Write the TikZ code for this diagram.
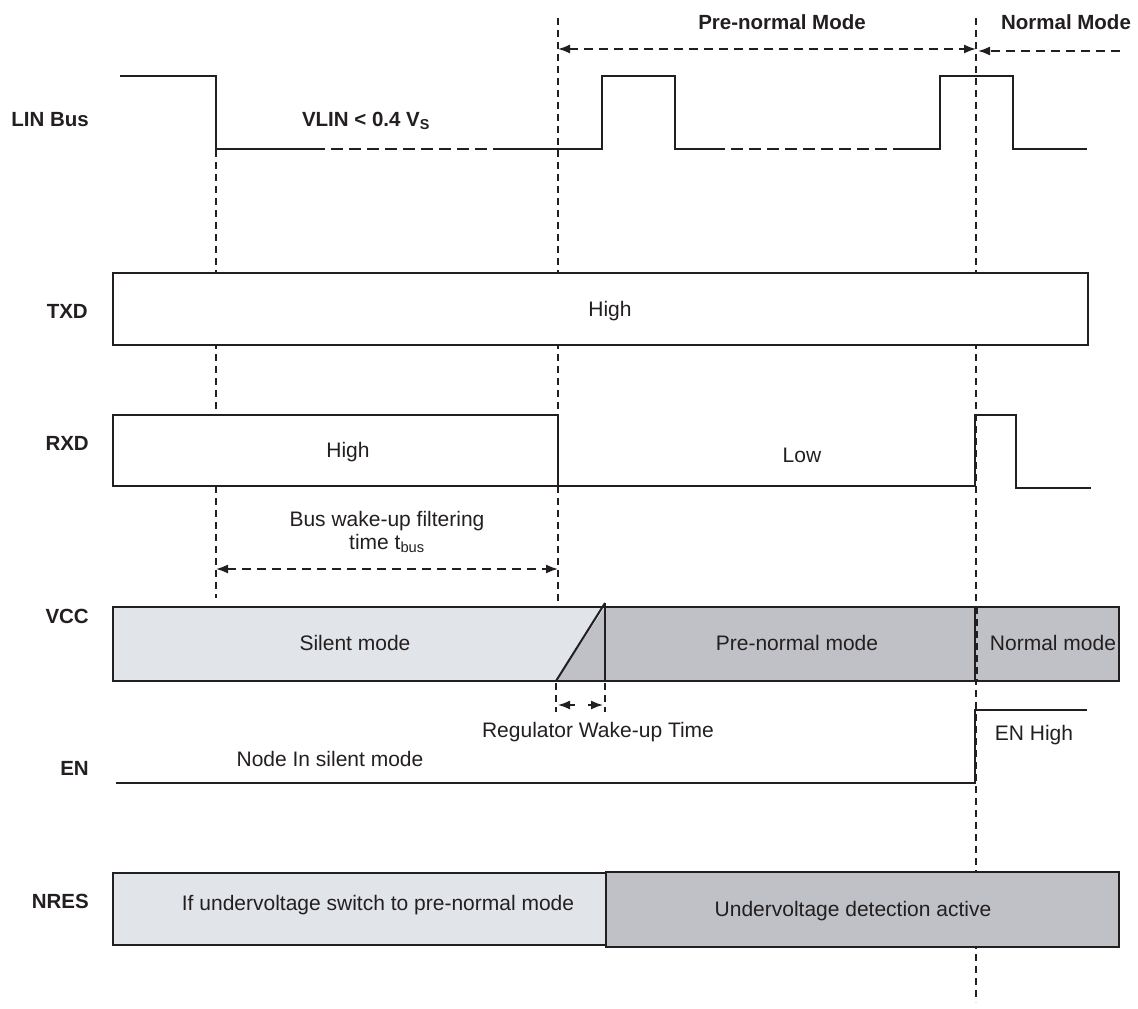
\documentclass[tikz,border=0pt]{standalone}
\usepackage{fontspec}
\setmainfont{Liberation Sans}
\usetikzlibrary{arrows.meta}
\definecolor{lightfill}{RGB}{225,228,233}
\definecolor{darkfill}{RGB}{191,193,199}
\definecolor{ink}{RGB}{35,31,32}
\begin{document}
\begin{tikzpicture}[x=1pt,y=-1pt,
  sig/.style={line width=2pt, draw=ink, line join=miter},
  sigdash/.style={line width=2pt, draw=ink, dash pattern=on 12pt off 6pt},
  guide/.style={line width=1.3pt, draw=ink, dash pattern=on 7pt off 5pt},
  dimarrow/.style={line width=1.6pt, draw=ink, dash pattern=on 9pt off 6pt},
  tip/.style={-{Latex[length=12pt,width=9pt]}},
  tips/.style={{Latex[length=12pt,width=9pt]}-{Latex[length=12pt,width=9pt]}},
  boxline/.style={line width=2pt, draw=ink},
  lbl/.style={font=\bfseries\fontsize{20.5}{22}\selectfont, anchor=east, text=ink, inner sep=0pt},
  txt/.style={font=\fontsize{21}{23}\selectfont, text=ink, inner sep=0pt},
  btxt/.style={font=\bfseries\fontsize{20.5}{22}\selectfont, text=ink, inner sep=0pt},
]
\useasboundingbox (0,0) rectangle (1138,1009);

% guide coordinates
\coordinate (g1t) at (216,150);
\coordinate (g1b) at (216,598);
\coordinate (g2t) at (558,18);
\coordinate (g2b) at (558,605);
\coordinate (g3t) at (976,18);
\coordinate (g3b) at (976,1002);

% vertical guides
\draw[guide] (g1t) -- (g1b);
\draw[guide] (g2t) -- (g2b);
\draw[guide] (g3t) -- (g3b);

% mode headers
\node[btxt] (prenorm) at (782,22) {Pre-normal Mode};
\node[btxt] (norm) at (1066,22) {Normal Mode};
\coordinate (pa) at (558,49);
\coordinate (pb) at (976,49);
\draw[dimarrow, tips] (pa) -- (pb);
\coordinate (na) at (1120,51);
\coordinate (nb) at (978,51);
\draw[dimarrow, tip] (na) -- (nb);

% LIN bus
\node[lbl] (linlbl) at (89,120) {LIN Bus};
\draw[sig] (120,76) -- (216,76) -- (216,149) -- (313,149);
\draw[sigdash] (313,149) -- (502,149);
\draw[sig] (502,149) -- (602,149) -- (602,76) -- (675,76) -- (675,149) -- (713,149);
\draw[sigdash] (713,149) -- (895,149);
\draw[sig] (895,149) -- (940,149) -- (940,76) -- (1013,76) -- (1013,149) -- (1087,149);
\node[btxt] (vlin) at (366,121) {VLIN < 0.4 V\textsubscript{S}};

% TXD
\node[lbl] (txdlbl) at (88,311) {TXD};
\draw[boxline, fill=white] (113,273) rectangle (1088,345);
\node[txt] (txdhigh) at (610,311) {High};

% RXD
\node[lbl] (rxdlbl) at (89,443) {RXD};
\draw[boxline, fill=white] (113,415) rectangle (558,486);
\draw[sig] (558,486) -- (975,486) -- (975,415) -- (1016,415) -- (1016,488) -- (1091,488);
\node[txt] (rxdhigh) at (348,452) {High};
\node[txt] (rxdlow) at (802,455) {Low};

% bus wake-up filtering time
\node[txt, align=center] (tbus) at (387,532) {Bus wake-up filtering\\time t\textsubscript{bus}};
\coordinate (ta) at (216,569);
\coordinate (tb) at (558,569);
\draw[dimarrow, tips] (ta) -- (tb);

% VCC
\node[lbl] (vcclbl) at (89,616) {VCC};
\fill[lightfill] (113,607) -- (605,607) -- (556,681) -- (113,681) -- cycle;
\fill[darkfill] (605,607) -- (1119,607) -- (1119,681) -- (556,681) -- cycle;
\draw[boxline] (113,607) rectangle (1119,681);
\draw[boxline] (605,603) -- (605,681);
\draw[boxline] (556,681) -- (605,603);
\draw[line width=1.5pt, draw=ink] (975,607) -- (975,681);
\draw[guide] (977,607) -- (977,681);
\node[txt] (silent) at (355,643) {Silent mode};
\node[txt] (pnm) at (797,643) {Pre-normal mode};
\node[txt] (nm) at (1053,643) {Normal mode};

% regulator wake-up time
\draw[guide] (556,683) -- (556,712);
\draw[guide] (605,683) -- (605,712);
\coordinate (ra1) at (575,705);
\coordinate (ra2) at (558,705);
\coordinate (rb1) at (588,705);
\coordinate (rb2) at (603,705);
\draw[line width=1.6pt, draw=ink, tip] (ra1) -- (ra2);
\draw[line width=1.6pt, draw=ink, tip] (rb1) -- (rb2);
\node[txt] (regtxt) at (598,732) {Regulator Wake-up Time};

% EN
\node[lbl] (enlbl) at (89,768) {EN};
\draw[sig] (116,783) -- (975,783) -- (975,710) -- (1087,710);
\node[txt] (ensilent) at (330,759) {Node In silent mode};
\node[txt] (enhigh) at (1034,735) {EN High};

% NRES
\node[lbl] (nreslbl) at (89,901) {NRES};
\draw[boxline, fill=lightfill] (113,873) rectangle (606,945);
\draw[boxline, fill=darkfill] (606,872) rectangle (1119,947);
\node[txt] (nres1) at (378,905) {If undervoltage switch to pre-normal mode};
\node[txt] (nres2) at (853,911) {Undervoltage detection active};
\end{tikzpicture}
\end{document}
